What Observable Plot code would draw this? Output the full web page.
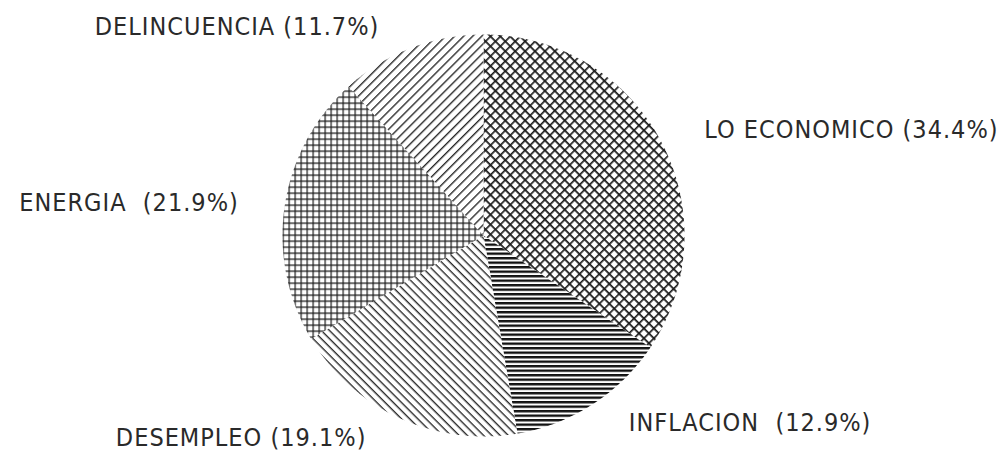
<!DOCTYPE html>
<html>
<head>
<meta charset="utf-8">
<script src="https://cdn.jsdelivr.net/npm/d3@7"></script>
<script src="https://cdn.jsdelivr.net/npm/@observablehq/plot@0.6"></script>
<style>
  html, body { margin: 0; padding: 0; background: #fff; }
  #chart svg text { white-space: pre; letter-spacing: 1px; }
</style>
</head>
<body>
<div id="chart"></div>
<script>
// ---- data ----
const categories = ["LO ECONOMICO", "INFLACION", "DESEMPLEO", "ENERGIA", "DELINCUENCIA"];
const values = [34.4, 12.9, 19.1, 21.9, 11.7];
const valueLabels = ["(34.4%)", "(12.9%)", "(19.1%)", "(21.9%)", "(11.7%)"];
const labelGaps = [" ", "  ", " ", "  ", " "];
const patternIds = ["pEcon", "pInfl", "pDesemp", "pEnerg", "pDelinc"];

// ---- layout ----
const W = 1006, H = 461;
const cx = 483, cy = 235, R = 201;      // pie centre and radius in pixels
const labelR = 1.11;                    // label distance (in radii)
const labelGap = 24;                    // horizontal offset of labels, px

// ---- derived geometry (angles clockwise from 12 o'clock) ----
const total = d3.sum(values);
let acc = 0;
const slices = categories.map((name, i) => {
  const a0 = acc / total * 2 * Math.PI;
  acc += values[i];
  const a1 = acc / total * 2 * Math.PI;
  return {name, value: values[i], a0, a1, mid: (a0 + a1) / 2,
          label: name + labelGaps[i] + valueLabels[i], pattern: patternIds[i]};
});

function wedge(s) {
  const pts = [{x: 0, y: 0}];
  const n = Math.max(2, Math.ceil((s.a1 - s.a0) / (Math.PI / 360)));
  for (let k = 0; k <= n; ++k) {
    const t = s.a0 + (s.a1 - s.a0) * k / n;
    pts.push({x: Math.sin(t), y: Math.cos(t)});
  }
  pts.push({x: 0, y: 0});
  return pts;
}

const labels = slices.map(s => ({
  label: s.label,
  x: Math.sin(s.mid) * labelR,
  y: Math.cos(s.mid) * labelR,
  right: Math.sin(s.mid) >= 0
}));

const font = "'DejaVu Sans Condensed', 'DejaVu Sans', sans-serif";

const plot = Plot.plot({
  width: W,
  height: H,
  margin: 0,
  x: {domain: [-cx / R, (W - cx) / R], axis: null},
  y: {domain: [-(H - cy) / R, cy / R], axis: null},
  style: {background: "#fff", overflow: "visible"},
  marks: [
    ...slices.map(s => Plot.line(wedge(s), {
      x: "x", y: "y", curve: "linear",
      fill: `url(#${s.pattern})`, stroke: "none"
    })),
    Plot.text(labels.filter(d => d.right), {
      x: "x", y: "y", text: "label", textAnchor: "start", dx: labelGap,
      fontSize: 25, fontFamily: font, fill: "#2a2a2a", fontWeight: 300
    }),
    Plot.text(labels.filter(d => !d.right), {
      x: "x", y: "y", text: "label", textAnchor: "end", dx: -labelGap,
      fontSize: 25, fontFamily: font, fill: "#2a2a2a", fontWeight: 300
    })
  ]
});

// hatch patterns
const ink = "#1a1a1a";
d3.select(plot).insert("defs", ":first-child").html(`
  <pattern id="pEcon" patternUnits="userSpaceOnUse" width="7" height="7" patternTransform="rotate(45)">
    <rect width="7" height="7" fill="#fff"/>
    <path d="M0,0.8H7M0.8,0V7" stroke="${ink}" stroke-width="1.7"/>
  </pattern>
  <pattern id="pInfl" patternUnits="userSpaceOnUse" width="8" height="4.5">
    <rect width="8" height="4.5" fill="#fff"/>
    <path d="M0,1.2H8" stroke="#111" stroke-width="2.4"/>
  </pattern>
  <pattern id="pDesemp" patternUnits="userSpaceOnUse" width="5.8" height="5.8" patternTransform="rotate(45)">
    <rect width="5.8" height="5.8" fill="#fff"/>
    <path d="M0,0.7H5.8" stroke="${ink}" stroke-width="1.3"/>
  </pattern>
  <pattern id="pEnerg" patternUnits="userSpaceOnUse" width="6" height="6">
    <rect width="6" height="6" fill="#fff"/>
    <path d="M0,0.6H6M0.6,0V6" stroke="${ink}" stroke-width="1.2"/>
  </pattern>
  <pattern id="pDelinc" patternUnits="userSpaceOnUse" width="6.4" height="6.4" patternTransform="rotate(-45)">
    <rect width="6.4" height="6.4" fill="#fff"/>
    <path d="M0,0.7H6.4" stroke="${ink}" stroke-width="1.3"/>
  </pattern>
`);

document.getElementById("chart").appendChild(plot);
</script>
</body>
</html>
